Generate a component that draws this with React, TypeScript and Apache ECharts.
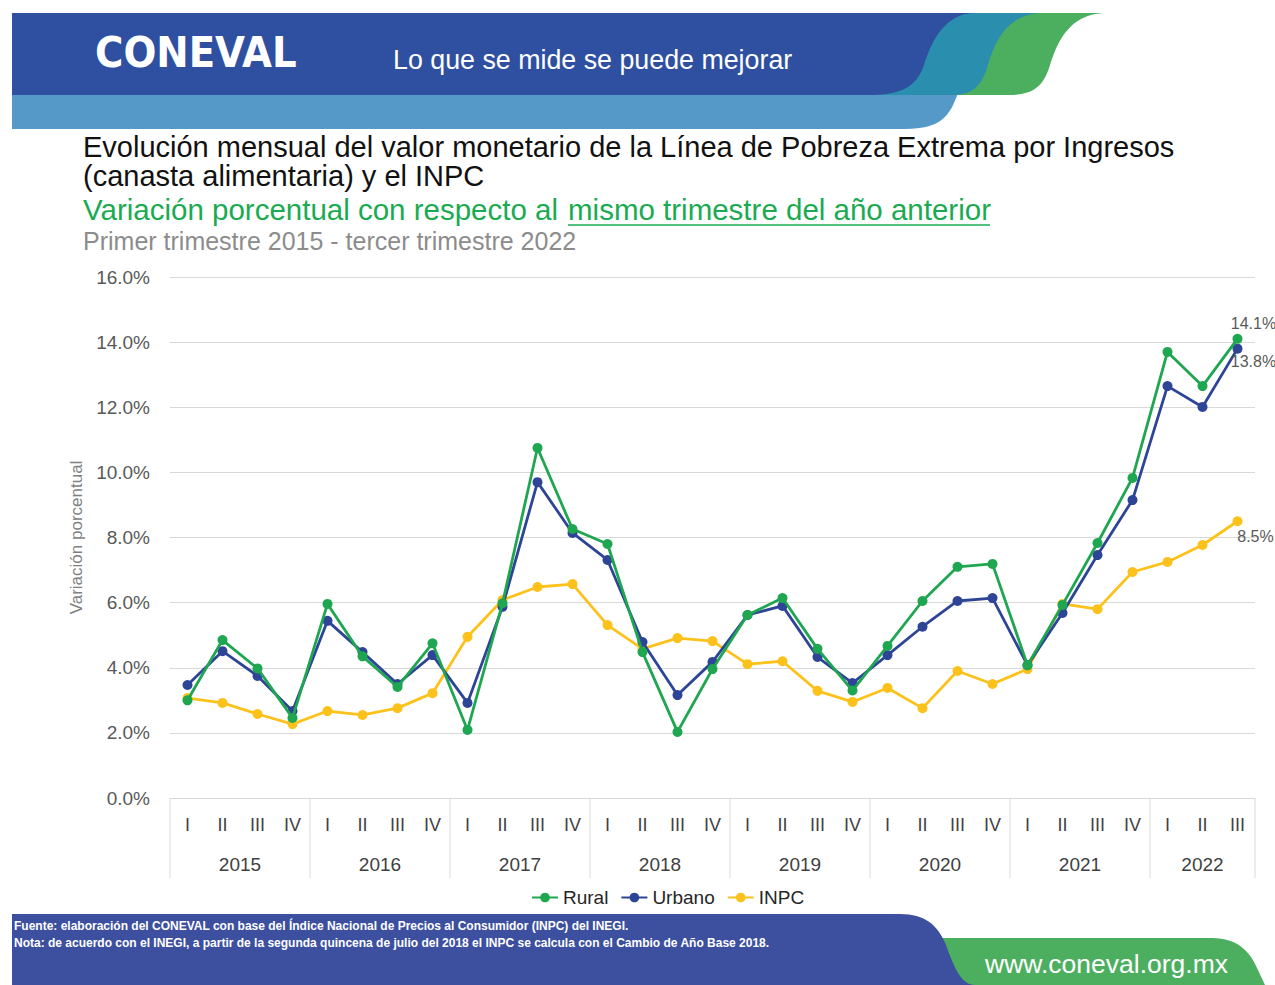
import React, { useEffect, useRef } from "react";
import * as echarts from "echarts";

const years = ["2015", "2016", "2017", "2018", "2019", "2020", "2021", "2022"];
const quartersPerYear = [4, 4, 4, 4, 4, 4, 4, 3];
const quarterLabels = ["I", "II", "III", "IV"];
const yTicks = [0, 2, 4, 6, 8, 10, 12, 14, 16];

const rural = [3.0, 4.85, 3.98, 2.46, 5.96, 4.35, 3.41, 4.75, 2.09, 5.98, 10.75, 8.26, 7.8, 4.48, 2.03, 3.96, 5.62, 6.14, 4.58, 3.3, 4.67, 6.05, 7.1, 7.19, 4.08, 5.93, 7.83, 9.83, 13.7, 12.65, 14.1];
const urbano = [3.47, 4.51, 3.75, 2.67, 5.44, 4.48, 3.5, 4.39, 2.92, 5.87, 9.7, 8.14, 7.31, 4.79, 3.16, 4.18, 5.62, 5.9, 4.33, 3.53, 4.39, 5.26, 6.05, 6.14, 4.08, 5.68, 7.46, 9.15, 12.65, 12.01, 13.8];
const inpc = [3.07, 2.92, 2.58, 2.27, 2.67, 2.55, 2.76, 3.22, 4.95, 6.08, 6.48, 6.57, 5.31, 4.58, 4.91, 4.82, 4.11, 4.2, 3.29, 2.95, 3.38, 2.76, 3.9, 3.5, 3.96, 5.96, 5.8, 6.94, 7.25, 7.77, 8.5];

const FONT = "'Liberation Sans', Arial, sans-serif";

echarts.graphic.registerShape(
  "hdrLight",
  echarts.graphic.extendPath("M12 93 L958 93 C950 115 942 129 905 129 L12 129 Z", {})
);
echarts.graphic.registerShape(
  "hdrGreen",
  echarts.graphic.extendPath("M940 13 L1103 13 C1070 15 1058 40 1050 65 C1043 88 1032 95 1008 95 L940 95 Z", {})
);
echarts.graphic.registerShape(
  "hdrTeal",
  echarts.graphic.extendPath("M880 13 L1040 13 C1008 15 995 40 988 65 C981 88 972 95 950 95 L880 95 Z", {})
);
echarts.graphic.registerShape(
  "hdrBlue",
  echarts.graphic.extendPath("M12 13 L972 13 C945 15 932 40 924 65 C916 88 900 95 868 95 L12 95 Z", {})
);
echarts.graphic.registerShape(
  "ftrGreen",
  echarts.graphic.extendPath("M920 938 L1212 938 C1238 938 1250 952 1257 968 L1265 985 L920 985 Z", {})
);
echarts.graphic.registerShape(
  "ftrBlue",
  echarts.graphic.extendPath("M12 914 L900 914 C925 914 938 925 946 945 C955 970 962 985 975 985 L12 985 Z", {})
);

export default function App() {
  const ref = useRef<HTMLDivElement>(null);

  useEffect(() => {
    document.body.style.margin = "0";
    if (!ref.current) return;
    const chart = echarts.init(ref.current, null, { renderer: "svg" });

    const categories: string[] = [];
    const groups: number[][] = [];
    let idx = 0;
    quartersPerYear.forEach((n, yi) => {
      groups.push([idx, idx + n - 1, yi]);
      for (let q = 0; q < n; q++) categories.push(quarterLabels[q]);
      idx += n;
    });

    const lastLabel = (arr: number[], offset: number[]) =>
      arr.map((v, i) =>
        i === arr.length - 1
          ? {
              value: v,
              label: {
                show: true,
                position: "top",
                offset,
                formatter: (p: any) => p.value.toFixed(1) + "%",
                color: "#595959",
                fontSize: 16,
                fontFamily: FONT,
              },
            }
          : v
      );

    const lineSeries = (name: string, data: any[], color: string, z: number) => ({
      name,
      type: "line",
      data,
      z,
      symbol: "circle",
      symbolSize: 10,
      lineStyle: { color, width: 2.8 },
      itemStyle: { color },
      emphasis: { disabled: true },
    });

    chart.setOption({
      animation: false,
      grid: { left: 170, right: 20, top: 277, bottom: 187, containLabel: false },
      legend: {
        data: ["Rural", "Urbano", "INPC"],
        left: 526,
        top: 883,
        itemWidth: 26,
        itemHeight: 12,
        itemGap: 12,
        textStyle: { fontSize: 19, color: "#262626", fontFamily: FONT },
      },
      xAxis: {
        type: "category",
        data: categories,
        boundaryGap: true,
        axisLine: { show: false },
        axisTick: { show: false },
        axisLabel: { interval: 0, color: "#404040", fontSize: 18, margin: 18, fontFamily: FONT },
      },
      yAxis: {
        type: "value",
        min: yTicks[0],
        max: yTicks[yTicks.length - 1],
        interval: 2,
        name: "Variación porcentual",
        nameLocation: "middle",
        nameGap: 85,
        nameTextStyle: { color: "#7f7f7f", fontSize: 17, fontFamily: FONT },
        axisLine: { show: false },
        axisTick: { show: false },
        axisLabel: {
          color: "#595959",
          fontSize: 19,
          margin: 20,
          fontFamily: FONT,
          formatter: (v: number) => v.toFixed(1) + "%",
        },
        splitLine: { lineStyle: { color: "#d9d9d9", width: 1 } },
      },
      series: [
        {
          type: "custom",
          silent: true,
          clip: false,
          encode: { x: 0, y: 2 },
          data: groups,
          renderItem: (params: any, api: any) => {
            const s = api.value(0);
            const e = api.value(1);
            const yi = api.value(2);
            const p0 = api.coord([s, 0]);
            const p1 = api.coord([e, 0]);
            const bw = api.size([1, 0])[0];
            const left = p0[0] - bw / 2;
            const right = p1[0] + bw / 2;
            const y = p0[1];
            const children: any[] = [
              { type: "line", shape: { x1: left, y1: y, x2: left, y2: y + 80 }, style: { stroke: "#d9d9d9", lineWidth: 1 } },
              {
                type: "text",
                x: (left + right) / 2,
                y: y + 66,
                style: { text: years[yi], align: "center", verticalAlign: "middle", fill: "#404040", fontSize: 19, fontFamily: FONT },
              },
            ];
            if (params.dataIndex === groups.length - 1) {
              children.push({ type: "line", shape: { x1: right, y1: y, x2: right, y2: y + 80 }, style: { stroke: "#d9d9d9", lineWidth: 1 } });
            }
            return { type: "group", children };
          },
        },
        lineSeries("INPC", lastLabel(inpc, [18, 33]), "#fcc21b", 3),
        lineSeries("Urbano", lastLabel(urbano, [16, 31]), "#2e4597", 4),
        lineSeries("Rural", lastLabel(rural, [16, 3]), "#1ea650", 5),
      ],
      graphic: [
        { type: "hdrLight", x: 0, y: 0, style: { fill: "#5599c8" } },
        { type: "hdrGreen", x: 0, y: 0, style: { fill: "#4caf5f" } },
        { type: "hdrTeal", x: 0, y: 0, style: { fill: "#2a8fae" } },
        { type: "hdrBlue", x: 0, y: 0, style: { fill: "#2f4fa1" } },
        {
          type: "text",
          left: 95,
          top: 30,
          style: { text: "CONEVAL", fill: "#ffffff", fontSize: 43, fontWeight: 900, fontFamily: "'DejaVu Sans Condensed', 'DejaVu Sans', sans-serif" },
        },
        {
          type: "text",
          left: 393,
          top: 46,
          style: { text: "Lo que se mide se puede mejorar", fill: "#ffffff", fontSize: 26.8, fontFamily: FONT },
        },
        {
          type: "text",
          left: 83,
          top: 132,
          style: { text: "Evolución mensual del valor monetario de la Línea de Pobreza Extrema por Ingresos", fill: "#111111", fontSize: 29, fontFamily: FONT },
        },
        {
          type: "text",
          left: 83,
          top: 161,
          style: { text: "(canasta alimentaria) y el INPC", fill: "#111111", fontSize: 29, fontFamily: FONT },
        },
        {
          type: "text",
          left: 83,
          top: 194,
          style: { text: "Variación porcentual con respecto al", fill: "#1aab52", fontSize: 29.5, fontFamily: FONT },
        },
        {
          type: "text",
          left: 568,
          top: 194,
          style: { text: "mismo trimestre del año anterior", fill: "#1aab52", fontSize: 29.5, fontFamily: FONT },
        },
        { type: "line", shape: { x1: 568, y1: 225, x2: 990, y2: 225 }, style: { stroke: "#1aab52", lineWidth: 1.5 } },
        {
          type: "text",
          left: 83,
          top: 228,
          style: { text: "Primer trimestre 2015 - tercer trimestre 2022", fill: "#8c8c8c", fontSize: 25, fontFamily: FONT },
        },
        { type: "ftrGreen", x: 0, y: 0, style: { fill: "#4caf5f" } },
        { type: "ftrBlue", x: 0, y: 0, style: { fill: "#3d4f9f" } },
        {
          type: "text",
          left: 14,
          top: 920,
          style: {
            text: "Fuente: elaboración del CONEVAL con base del Índice Nacional de Precios al Consumidor (INPC) del INEGI.",
            fill: "#ffffff",
            fontSize: 12,
            fontWeight: "bold",
            fontFamily: FONT,
          },
        },
        {
          type: "text",
          left: 14,
          top: 937,
          style: {
            text: "Nota: de acuerdo con el INEGI, a partir de la segunda quincena de julio del 2018 el INPC se calcula con el Cambio de Año Base 2018.",
            fill: "#ffffff",
            fontSize: 12,
            fontWeight: "bold",
            fontFamily: FONT,
          },
        },
        {
          type: "text",
          left: 985,
          top: 950,
          style: { text: "www.coneval.org.mx", fill: "#ffffff", fontSize: 26.5, fontFamily: FONT },
        },
      ],
    });

    return () => chart.dispose();
  }, []);

  return <div ref={ref} style={{ position: "absolute", left: 0, top: 0, width: 1275, height: 985 }} />;
}
